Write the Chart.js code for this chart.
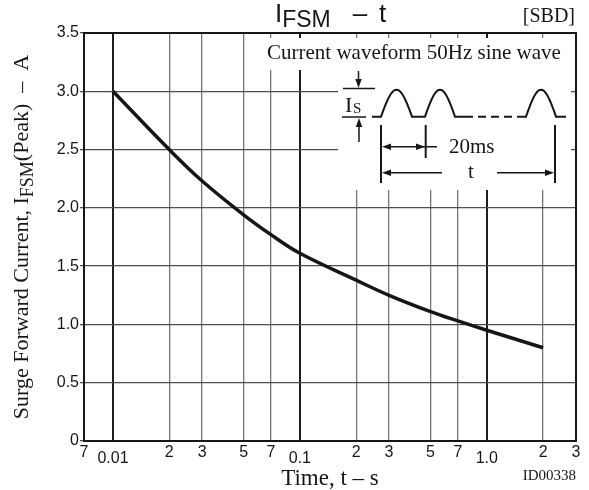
<!DOCTYPE html>
<html>
<head>
<meta charset="utf-8">
<script src="https://cdn.jsdelivr.net/npm/chart.js@4.4.1/dist/chart.umd.min.js"></script>
<style>
  html, body { margin: 0; padding: 0; background: #fff; }
  #wrap { width: 589px; height: 490px; }
</style>
</head>
<body>
<div id="wrap"><canvas id="grafico"></canvas></div>
<script>
// curva IFSM - t
const tempos = [0.01, 0.02, 0.03, 0.05, 0.07, 0.1, 0.2, 0.3, 0.5, 0.7, 1, 2];
const correntes = [3.0, 2.5, 2.23, 1.94, 1.77, 1.61, 1.38, 1.25, 1.11, 1.03, 0.95, 0.80];

const xTicks = [0.007, 0.01, 0.02, 0.03, 0.05, 0.07, 0.1, 0.2, 0.3, 0.5, 0.7, 1, 2, 3];
const xTickLabels = ['7', '0.01', '2', '3', '5', '7', '0.1', '2', '3', '5', '7', '1.0', '2', '3'];
const decadas = [0.01, 0.1, 1];
const yTicks = [0, 0.5, 1.0, 1.5, 2.0, 2.5, 3.0, 3.5];
const yTickLabels = ['0', '0.5', '1.0', '1.5', '2.0', '2.5', '3.0', '3.5'];

const SERIF = '"Liberation Serif", "DejaVu Serif", serif';
const SANS = '"Liberation Sans", Arial, sans-serif';
const INK = '#161616';

function ehDecada(c) {
    return c.tick && decadas.includes(c.tick.value);
}

// seta com a ponta em (x, y) apontando na direção (dx, dy)
function seta(ctx, x, y, dx, dy) {
    const len = 9, half = 3.2;
    const bx = x - dx * len, by = y - dy * len;
    ctx.beginPath();
    ctx.moveTo(x, y);
    ctx.lineTo(bx - dy * half, by + dx * half);
    ctx.lineTo(bx + dy * half, by - dx * half);
    ctx.closePath();
    ctx.fill();
}

function linha(ctx, x1, y1, x2, y2) {
    ctx.beginPath();
    ctx.moveTo(x1, y1);
    ctx.lineTo(x2, y2);
    ctx.stroke();
}

function lombada(ctx, x0, w, base, amp) {
    for (let i = 0; i <= 24; i++) {
        const t = i / 24;
        ctx.lineTo(x0 + w * t, base - amp * Math.sin(Math.PI * t));
    }
}

// texto com partes em índice (subscrito)
function textoPartes(ctx, partes, x, y, centrar) {
    let total = 0;
    partes.forEach(p => { ctx.font = p.font; total += ctx.measureText(p.t).width; });
    let cx = centrar ? x - total / 2 : x;
    partes.forEach(p => {
        ctx.font = p.font;
        ctx.fillText(p.t, cx, y + (p.dy || 0));
        cx += ctx.measureText(p.t).width;
    });
}

const moldura = {
    id: 'moldura',
    beforeDatasetsDraw(chart) {
        const ctx = chart.ctx;
        const L = chart.chartArea.left - 84, T = chart.chartArea.top;
        ctx.save();
        ctx.fillStyle = '#fff';
        ctx.fillRect(L + 256, T + 5, 318, 32);
        ctx.fillRect(L + 338, T + 37, 233, 120);
        ctx.restore();
    },
    afterDraw(chart) {
        const ctx = chart.ctx;
        const a = chart.chartArea;
        const L = a.left - 84, T = a.top;
        ctx.save();
        ctx.strokeStyle = INK;
        ctx.fillStyle = INK;

        // caixa do gráfico
        ctx.lineWidth = 2;
        ctx.strokeRect(a.left, a.top, a.right - a.left, a.bottom - a.top);

        // título
        ctx.textBaseline = 'alphabetic';
        ctx.textAlign = 'left';
        textoPartes(ctx, [
            { t: 'I', font: '26px ' + SANS },
            { t: 'FSM', font: '23px ' + SANS, dy: 5 }
        ], L + 275, T - 11, false);
        ctx.font = '26px ' + SANS;
        ctx.textAlign = 'center';
        ctx.fillText('–', L + 360, T - 11);
        ctx.textAlign = 'left';
        ctx.fillText('t', L + 379, T - 11);

        ctx.font = '20px ' + SERIF;
        ctx.textAlign = 'right';
        ctx.textBaseline = 'middle';
        ctx.fillText('[SBD]', L + 575, T - 16);

        ctx.font = '15px ' + SERIF;
        ctx.fillText('ID00338', L + 576, T + 443);

        // título do eixo y
        ctx.save();
        ctx.translate(28, (a.top + a.bottom) / 2);
        ctx.rotate(-Math.PI / 2);
        ctx.textAlign = 'left';
        ctx.textBaseline = 'alphabetic';
        textoPartes(ctx, [
            { t: 'Surge Forward Current, I', font: '22px ' + SERIF },
            { t: 'FSM', font: '18px ' + SERIF, dy: 5 },
            { t: '(Peak)  –  A', font: '22px ' + SERIF }
        ], 0, 0, true);
        ctx.restore();

        // quadro da forma de onda
        ctx.textAlign = 'left';
        ctx.textBaseline = 'middle';
        ctx.font = '21px ' + SERIF;
        ctx.fillText('Current waveform 50Hz sine wave', L + 267, T + 20);

        ctx.lineWidth = 1.5;
        linha(ctx, L + 343, T + 55.5, L + 375, T + 55.5);
        linha(ctx, L + 342, T + 84, L + 366, T + 84);
        linha(ctx, L + 358.5, T + 38, L + 358.5, T + 50);
        seta(ctx, L + 358.5, T + 55, 0, 1);
        linha(ctx, L + 359, T + 109, L + 359, T + 92);
        seta(ctx, L + 359, T + 85, 0, -1);

        ctx.textBaseline = 'alphabetic';
        ctx.font = '22px ' + SERIF;
        ctx.fillText('I', L + 345, T + 79);
        ctx.font = '15px ' + SERIF;
        ctx.fillText('S', L + 353, T + 80);

        const base = T + 83.7, amp = 27;
        ctx.lineWidth = 2;
        ctx.beginPath();
        ctx.moveTo(L + 372, base);
        lombada(ctx, L + 381, 31, base, amp);
        ctx.lineTo(L + 425, base);
        lombada(ctx, L + 425, 30, base, amp);
        ctx.lineTo(L + 465, base);
        ctx.stroke();
        ctx.setLineDash([8, 5]);
        linha(ctx, L + 465, base, L + 517, base);
        ctx.setLineDash([]);
        ctx.beginPath();
        ctx.moveTo(L + 517, base);
        lombada(ctx, L + 526, 30, base, amp);
        ctx.lineTo(L + 566, base);
        ctx.stroke();

        linha(ctx, L + 381, T + 92, L + 381, T + 150);
        linha(ctx, L + 425.7, T + 92, L + 425.7, T + 125);
        linha(ctx, L + 555, T + 92, L + 555, T + 150);

        ctx.lineWidth = 1.5;
        linha(ctx, L + 385, T + 113.7, L + 437, T + 113.7);
        seta(ctx, L + 382, T + 113.7, -1, 0);
        seta(ctx, L + 425, T + 113.7, 1, 0);
        linha(ctx, L + 385, T + 139.7, L + 442, T + 139.7);
        seta(ctx, L + 382, T + 139.7, -1, 0);
        linha(ctx, L + 497, T + 139.7, L + 550, T + 139.7);
        seta(ctx, L + 554, T + 139.7, 1, 0);

        ctx.textBaseline = 'middle';
        ctx.font = '21px ' + SERIF;
        ctx.fillText('20ms', L + 449, T + 114);
        ctx.fillText('t', L + 468, T + 139);
        ctx.restore();
    }
};

const ctx = document.getElementById('grafico').getContext('2d');

const graficoSurto = new Chart(ctx, {
    type: 'line',
    data: {
        datasets: [{
            label: 'IFSM',
            data: tempos.map((t, i) => ({ x: t, y: correntes[i] })),
            borderColor: INK,
            borderWidth: 3.5,
            pointRadius: 0,
            tension: 0.4,
            fill: false
        }]
    },
    options: {
        responsive: true,
        maintainAspectRatio: false,
        animation: false,
        layout: { padding: { top: 33, right: 13, left: 0, bottom: 0 } },
        plugins: {
            legend: { display: false },
            tooltip: { enabled: false }
        },
        scales: {
            x: {
                type: 'logarithmic',
                min: 0.007,
                max: 3,
                afterBuildTicks: s => { s.ticks = xTicks.map(v => ({ value: v })); },
                afterFit: s => { s.height = 49; },
                border: { color: INK, width: 2 },
                grid: {
                    drawTicks: false,
                    color: c => ehDecada(c) ? '#1e1e1e' : '#767676',
                    lineWidth: c => ehDecada(c) ? 2 : 1.3
                },
                ticks: {
                    autoSkip: false,
                    maxRotation: 0,
                    minRotation: 0,
                    padding: 2,
                    color: INK,
                    font: c => ({ family: SANS, size: 16, lineHeight: ehDecada(c) ? 1.9 : 1.2 }),
                    callback: (v, i) => xTickLabels[i]
                },
                title: {
                    display: true,
                    text: 'Time, t – s',
                    color: INK,
                    padding: 0,
                    font: { family: SERIF, size: 23, lineHeight: 1 }
                }
            },
            y: {
                min: 0,
                max: 3.5,
                afterBuildTicks: s => { s.ticks = yTicks.map(v => ({ value: v })); },
                afterFit: s => { s.width = 84; },
                border: { color: INK, width: 2 },
                grid: {
                    color: '#4e4e4e',
                    lineWidth: 1.3,
                    tickLength: 4
                },
                ticks: {
                    padding: 1,
                    color: INK,
                    font: { family: SANS, size: 16 },
                    callback: (v, i) => yTickLabels[i]
                }
            }
        }
    },
    plugins: [moldura]
});
</script>
</body>
</html>
